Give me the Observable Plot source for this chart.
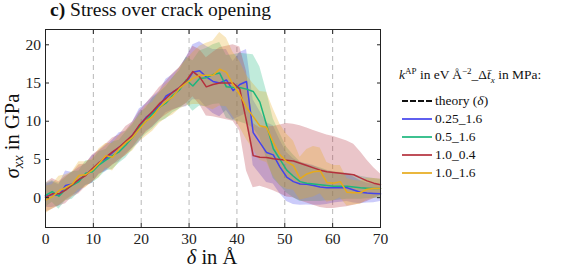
<!DOCTYPE html>
<html><head><meta charset="utf-8">
<script src="https://cdn.jsdelivr.net/npm/d3@7"></script>
<script src="https://cdn.jsdelivr.net/npm/@observablehq/plot@0.6"></script>
<style>
body{margin:0;background:#fff;font-family:"Liberation Serif",serif;color:#111;}
#wrap{position:relative;width:586px;height:268px;}
#chart{position:absolute;left:0;top:0;}
#title{position:absolute;left:50px;top:-1px;font-size:19.5px;white-space:nowrap;}
#legend{position:absolute;left:399px;top:66px;font-size:13.5px;white-space:nowrap;}
.hdr{height:26px;line-height:18px;}
.hdr sup,.hdr sub{font-size:9px;line-height:0;}
.row{height:18px;display:flex;align-items:center;}
.sw{width:30px;height:0;margin-right:3px;margin-left:3px;}
</style></head>
<body><div id="wrap">
<div id="title"><b>c)</b> Stress over crack opening</div>
<div id="chart"></div>
<div id="legend"></div>
</div>
<script>
const delta = [0,1.4,2.8,4.2,5.6,7.0,8.4,9.8,11.2,12.6,14.0,15.4,16.8,18.2,19.6,21.0,22.4,23.8,25.2,26.6,28.0,29.4,30.8,32.2,33.6,35.0,36.4,37.8,39.2,40.6,42.0,43.4,44.8,46.2,47.6,49.0,50.4,51.8,53.2,54.6,56.0,57.4,58.8,60.2,61.6,63.0,64.4,65.8,67.2,68.6,70.0];

const seriesNames = ["0.25_1.6","0.5_1.6","1.0_0.4","1.0_1.6"];
const seriesColors = ["#4343ec","#1cb67c","#b4303c","#e6aa1c"];

const mean_025_16 = [0.2,0.4,0.3,1.6,1.8,2.3,3.0,3.7,4.6,5.1,5.9,6.6,7.2,8.2,9.4,10.5,11.2,12.0,13.3,13.8,14.4,15.1,16.4,16.6,15.8,15.2,15.0,15.4,14.0,14.8,15.2,8.5,7.2,5.9,5.6,4.0,2.7,2.1,1.8,1.75,1.6,1.4,1.3,1.3,1.3,1.3,1.0,0.7,0.6,0.55,0.5];
const mean_05_16 = [0.3,0.8,0.2,1.1,1.6,2.1,3.2,3.4,4.3,4.9,5.5,6.0,6.9,7.9,9.2,10.0,11.0,11.8,12.4,13.4,14.1,15.4,14.6,15.6,15.7,16.1,16.3,14.5,14.4,14.4,14.2,13.9,12.5,9.5,6.4,5.0,3.6,2.8,2.1,1.9,1.8,1.7,1.6,1.5,1.5,1.5,1.4,1.3,1.25,1.2,1.2];
const mean_10_04 = [0.0,0.5,0.5,1.0,1.7,2.4,2.9,3.8,4.6,5.3,6.0,6.6,7.4,8.2,9.5,10.4,11.3,12.3,13.0,13.8,14.4,15.3,16.5,15.8,14.5,14.8,15.0,15.0,15.0,14.2,10.0,5.5,5.3,5.25,5.1,5.0,4.9,4.8,4.5,4.2,3.9,3.6,3.4,3.3,3.2,3.1,3.0,2.6,2.2,1.9,1.7];
const mean_10_16 = [-0.3,0.1,0.9,1.3,1.8,2.9,3.0,3.6,4.5,5.5,5.3,6.4,7.2,7.9,9.0,10.0,10.6,11.8,12.6,13.2,14.3,15.0,15.6,16.0,16.0,16.0,16.8,16.4,14.8,13.5,11.8,10.6,9.4,9.2,7.2,5.6,4.7,4.2,2.5,3.1,3.4,3.5,2.0,1.9,2.1,0.7,0.65,0.65,1.1,1.2,1.2];

const spread_025_16 = [1.5,1.7,1.4,1.9,1.5,1.6,1.4,1.8,1.5,1.7,1.6,1.9,1.5,1.7,2.2,1.8,2.0,1.9,2.2,2.3,2.6,3.2,3.6,3.8,4.0,4.2,4.4,4.0,3.8,4.2,4.2,4.3,4.1,3.9,3.8,3.5,3.2,3.0,2.8,2.7,2.6,2.4,2.2,2.0,1.9,1.8,1.7,1.5,1.3,1.2,1.0];
const spread_05_16 = [1.6,1.4,1.7,1.5,1.8,1.4,1.6,1.5,1.7,1.4,1.8,1.5,1.7,1.6,1.8,1.7,2.0,1.9,2.1,2.3,2.5,3.0,3.3,3.6,3.8,3.9,4.0,4.1,4.3,4.5,4.6,4.8,4.6,4.4,3.9,3.4,3.0,2.8,2.6,2.4,2.3,2.2,2.0,1.9,1.8,1.7,1.6,1.5,1.4,1.3,1.2];
const spread_10_04 = [1.9,2.0,1.6,1.8,1.6,1.9,1.5,1.8,1.6,1.7,1.8,1.6,1.9,1.7,1.8,1.9,2.0,2.1,2.2,2.4,2.6,3.0,3.3,3.6,3.8,4.2,4.6,4.8,5.0,5.5,6.5,4.2,3.8,4.0,4.2,4.5,4.8,4.8,4.9,4.9,4.9,4.9,4.8,4.7,4.5,4.3,4.0,3.4,2.7,2.0,1.4];
const spread_10_16 = [1.8,1.6,1.9,1.7,1.6,1.8,1.7,1.5,1.9,1.6,1.8,1.7,1.6,1.8,1.7,2.0,1.9,2.1,2.2,2.4,2.7,3.0,3.4,3.8,4.2,4.5,4.8,4.5,4.2,4.3,4.2,4.3,4.5,4.6,4.4,4.0,3.6,3.2,2.8,3.2,3.3,3.0,2.6,2.3,2.1,1.8,1.6,1.5,1.4,1.3,1.2];

const means = [mean_025_16, mean_05_16, mean_10_04, mean_10_16];
const spreads = [spread_025_16, spread_05_16, spread_10_04, spread_10_16];

const xTicks = [0,10,20,30,40,50,60,70];
const yTicks = [0,5,10,15,20];
const gridX = [10,20,30,40,50,60];

const rows = [];
seriesNames.forEach((name, i) => {
  delta.forEach((d, j) => {
    rows.push({series: name, delta: d, mean: means[i][j], lo: means[i][j] - spreads[i][j], hi: means[i][j] + spreads[i][j]});
  });
});

const marks = [
  Plot.ruleX(gridX, {stroke: "#b8b8b8", strokeWidth: 1, strokeDasharray: "5,4"})
];
seriesNames.forEach((name, i) => {
  marks.push(Plot.areaY(rows.filter(r => r.series === name), {x: "delta", y1: "lo", y2: "hi", fill: seriesColors[i], fillOpacity: 0.28}));
});
seriesNames.forEach((name, i) => {
  marks.push(Plot.lineY(rows.filter(r => r.series === name), {x: "delta", y: "mean", stroke: seriesColors[i], strokeWidth: 1.5}));
});
marks.push(
  Plot.axisX(xTicks, {anchor: "bottom", tickSize: -4, tickPadding: 9, label: null, fontSize: 15.5, stroke: "#222", fill: "#222"}),
  Plot.axisX(xTicks, {anchor: "top", tickSize: -4, fill: "none", label: null, stroke: "#222"}),
  Plot.axisY(yTicks, {anchor: "left", tickSize: -4, tickPadding: 8.5, label: null, fontSize: 15.5, stroke: "#222", fill: "#222"}),
  Plot.axisY(yTicks, {anchor: "right", tickSize: -4, fill: "none", label: null, stroke: "#222"}),
  Plot.frame({stroke: "#222", strokeWidth: 1})
);

const chart = Plot.plot({
  width: 390, height: 268,
  marginLeft: 45, marginRight: 10, marginTop: 29, marginBottom: 41,
  style: {fontFamily: "Liberation Serif, serif", background: "transparent", overflow: "visible"},
  x: {domain: [0, 70]},
  y: {domain: [-3.9, 22]},
  marks
});
document.getElementById("chart").appendChild(chart);

const svg = d3.select(chart);
const xl = svg.append("text").attr("x", 212).attr("y", 264).attr("text-anchor", "middle")
  .attr("font-size", 20.5).attr("fill", "#111").attr("font-family", "Liberation Serif, serif");
xl.append("tspan").attr("font-style", "italic").text("δ");
xl.append("tspan").text(" in Å");
const yl = svg.append("text").attr("transform", "translate(19,136) rotate(-90)").attr("text-anchor", "middle")
  .attr("font-size", 20.5).attr("fill", "#111").attr("font-family", "Liberation Serif, serif");
yl.append("tspan").attr("font-style", "italic").text("σ");
yl.append("tspan").attr("font-style", "italic").attr("font-size", 14.5).attr("dy", 4).text("xx");
yl.append("tspan").attr("dy", -4).text(" in GPa");

const legend = document.getElementById("legend");
let html = `<div class="hdr"><i>k</i><sup>AP</sup> in eV&thinsp;Å<sup>−2</sup>_Δ<i>t̄</i><sub><i>x</i></sub> in MPa:</div>`;
html += `<div class="row"><div class="sw" style="border-top:2px dashed #111"></div>theory (<i>δ</i>)</div>`;
seriesNames.forEach((n, i) => {
  html += `<div class="row"><div class="sw" style="border-top:2px solid ${seriesColors[i]};opacity:0.85"></div>${n}</div>`;
});
legend.innerHTML = html;
</script>
</body></html>
